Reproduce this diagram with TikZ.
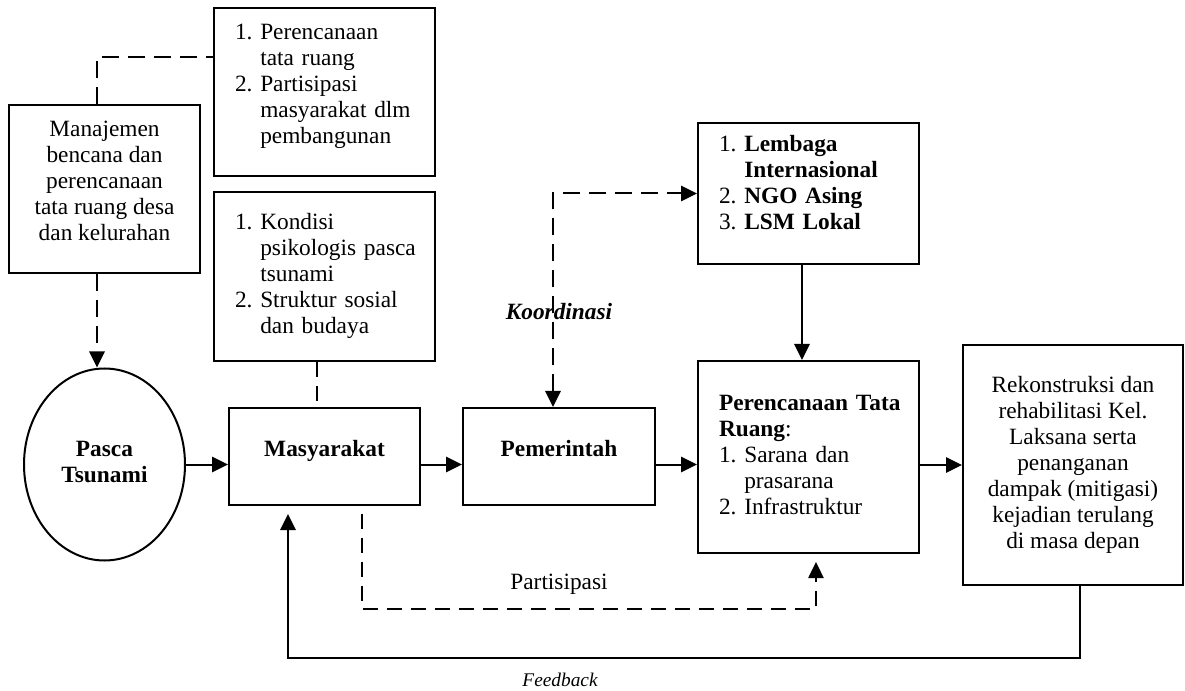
\documentclass[tikz,border=0pt]{standalone}
\usepackage{fontspec}
\setmainfont{Liberation Serif}
\usetikzlibrary{arrows.meta,shapes.geometric}

\begin{document}
\begin{tikzpicture}[x=0.75pt,y=-0.75pt,
  font=\fontsize{17.5}{19.5}\selectfont,
  >={Triangle[length=12pt,width=11.5pt]},
  kotak/.style={draw,line width=1.5pt,rectangle,inner sep=0pt},
  daftar/.style={kotak,text width=134.25pt,align=left},
  alur/.style={line width=1.5pt,->},
  putus/.style={line width=1.5pt,dash pattern=on 13pt off 6.5pt},
  putustipis/.style={line width=1pt,dash pattern=on 11pt off 7pt}]
\useasboundingbox (0,0) rectangle (1185,691);

% kotak-kotak
\node[kotak,minimum width=143.25pt,minimum height=126pt] (man) at (104.5,189)
  {\begin{tabular}{@{}c@{}}Manajemen\\bencana dan\\perencanaan\\tata ruang desa\\dan kelurahan\\[9pt]\end{tabular}};
\node[daftar,minimum width=165.75pt,minimum height=126pt] (rencana) at (324.5,92)
  {\noindent\begin{tabular}{@{}l@{\ }l@{}}1.&Perencanaan\\&tata ruang\\2.&Partisipasi\\&masyarakat dlm\\&pembangunan\\[9pt]\end{tabular}};
\node[daftar,minimum width=165.75pt,minimum height=126.75pt] (kondisi) at (324.5,276.5)
  {\noindent\begin{tabular}{@{}l@{\ }l@{}}1.&Kondisi\\&psikologis pasca\\&tsunami\\2.&Struktur sosial\\&dan budaya\end{tabular}};
\node[draw,ellipse,line width=1.5pt,inner sep=0pt,minimum width=120.75pt,minimum height=144pt] (pasca) at (104.5,464.5)
  {\begin{tabular}{@{}c@{}}\textbf{Pasca}\\\textbf{Tsunami}\end{tabular}};
\node[kotak,minimum width=143.25pt,minimum height=72.75pt,text height=12pt,text depth=12pt] (mas) at (324.5,456.5) {\textbf{Masyarakat}};
\node[kotak,minimum width=144pt,minimum height=72.75pt,text height=12pt,text depth=12pt] (pem) at (559,456.5) {\textbf{Pemerintah}};
\node[daftar,minimum width=165.75pt,minimum height=105.75pt] (lembaga) at (808.5,193.5)
  {\noindent\begin{tabular}{@{}l@{\ }l@{}}1.&\textbf{Lembaga}\\&\textbf{Internasional}\\2.&\textbf{NGO Asing}\\3.&\textbf{LSM Lokal}\\[12.75pt]\end{tabular}};
\node[daftar,minimum width=165.75pt,minimum height=144pt] (tataruang) at (808.5,457)
  {\noindent\begin{tabular}{@{}l@{\ }l@{}}\multicolumn{2}{@{}l@{}}{\textbf{Perencanaan Tata}}\\\multicolumn{2}{@{}l@{}}{\textbf{Ruang}:}\\1.&Sarana dan\\&prasarana\\2.&Infrastruktur\end{tabular}};
\node[kotak,minimum width=165pt,minimum height=180pt] (rek) at (1073,465)
  {\begin{tabular}{@{}c@{}}Rekonstruksi dan\\rehabilitasi Kel.\\Laksana serta\\penanganan\\dampak (mitigasi)\\kejadian terulang\\di masa depan\end{tabular}};

% garis penghubung
\draw[putus] ([xshift=-5.6pt]man.north) |- ([yshift=26.25pt]rencana.west);
\draw[putus,->] ([xshift=-5.6pt]man.south) -- ([xshift=-5.6pt]pasca.north);
\draw[putustipis] ([xshift=-5.6pt]kondisi.south) -- ([xshift=-5.6pt]mas.north);
\draw[alur] (pasca.east) -- (pasca.east -| mas.west);
\draw[alur] (mas.east |- pasca.east) -- (pem.west |- pasca.east);
\draw[alur] (pem.east |- pasca.east) -- (tataruang.west |- pasca.east);
\draw[alur] (tataruang.east |- rek.west) -- (rek.west);
\draw[alur] ([xshift=-4.9pt]lembaga.south) -- ([xshift=-4.9pt]tataruang.north);

% koordinasi
\draw[putus,<->] ([xshift=-4.5pt]pem.north) |- (lembaga.west);
\node (koord) at (559,312) {\bfseries\itshape Koordinasi};

% partisipasi
\draw[putustipis,->,shorten <=6pt,shorten >=6pt] ([xshift=28.1pt]mas.south) -- ++(0,103) -| ([xshift=5.6pt]tataruang.south);
\node (partisipasi) at (559,584) {Partisipasi};

% feedback
\draw[alur,shorten >=6pt] ([xshift=5.25pt]rek.south) -- ++(0,72) -| ([xshift=-27.4pt]mas.south);
\node (umpan) at (560,680) {\fontsize{14.5}{17}\selectfont\itshape Feedback};
\end{tikzpicture}
\end{document}
